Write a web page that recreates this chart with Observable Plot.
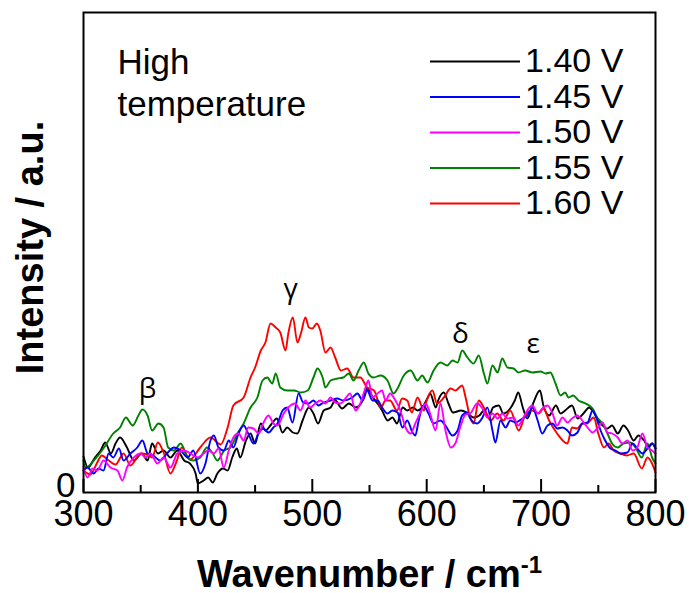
<!DOCTYPE html>
<html>
<head>
<meta charset="utf-8">
<script src="https://cdn.jsdelivr.net/npm/d3@7"></script>
<script src="https://cdn.jsdelivr.net/npm/@observablehq/plot@0.6"></script>
<style>
  html, body { margin: 0; padding: 0; background: #fff; }
  #chart svg { display: block; }
</style>
</head>
<body>
<div id="chart"></div>
<script>
// Raman spectra recorded at high temperature, one curve per applied potential.
// Each series: [wavenumber (cm^-1), intensity (a.u.)]

const seriesLabels = ["1.40 V", "1.45 V", "1.50 V", "1.55 V", "1.60 V"];
const seriesColors = ["#000000", "#0000ff", "#ff00ff", "#008000", "#ff0000"];

const spectrum140 = [
  [300,36],[304,25],[310,35],[315,42],[319,50],[324,39],[328,49],[332,55],[338,45],[344,32],
  [351,39],[356,32],[360,49],[365,39],[370,42],[376,35],[382,42],[388,32],[393,29],[398,19],
  [400,9],[405,12],[409,15],[413,10],[417,19],[422,24],[426,22],[430,35],[434,44],[437,35],
  [442,52],[446,59],[450,49],[455,69],[459,62],[464,68],[469,74],[474,60],[478,65],[483,60],
  [487,59],[491.5,72],[497,85],[501,79],[505,69],[510,82],[516,85],[520,92],[526,84],[532,89],
  [538,85],[544,92],[548,104],[553,95],[557,89],[561,82],[566,72],[570,75],[574,69],[579,85],
  [583,82],[588,85],[592,82],[596,85],[601,95],[603,99],[608,85],[610,92],[615,100],[619,89],
  [623,80],[630,82],[635,80],[641,75],[646,77],[650,82],[654,75],[658,85],[663,87],[667,79],
  [673,84],[677,92],[680,100],[684,85],[688,74],[693,89],[699,102],[702,87],[707,77],[713,87],
  [717,79],[721,82],[727,87],[732,74],[737,79],[742,85],[746,80],[752,69],[758,64],[762,67],
  [767,59],[772,67],[776,62],[781,52],[785,57],[790,52],[794,45],[797,49],[800,44]
];

const spectrum145 = [
  [300,22],[303.5,25],[309,19],[313,24],[317.5,22],[322,39],[326,35],[331,44],[335,32],[341,39],
  [347,45],[351.5,52],[356,39],[361,37],[367,32],[373,39],[379,45],[385,42],[391,35],[396,42],
  [402,19],[406.6,29],[411,52],[414,57],[418,45],[422.6,42],[427,52],[431,45],[435.5,59],[440,67],
  [444,59],[448.6,49],[453,59],[457,64],[461.7,60],[466,65],[469.6,69],[474,82],[478,85],[482.7,70],
  [488,99],[492,90],[496.7,89],[501,92],[505.4,87],[510,90],[516,92],[522,94],[527,92],[535,95],
  [539.5,99],[544,92],[548,102],[552.6,92],[557,92],[561,85],[565.7,79],[570,82],[574.5,80],[578.8,65],
  [583,72],[587.6,60],[590,57],[593,72],[597,87],[601.6,79],[606,69],[612,72],[616.4,67],[622.5,57],
  [627,62],[631,77],[635.6,80],[638,74],[644,69],[648.8,75],[653,85],[657.5,62],[660,50],[664.5,72],
  [669,65],[673,72],[677.6,70],[683.7,74],[688,77],[692.5,85],[697,72],[701,59],[705.6,67],[710,69],
  [714,64],[718.7,65],[723,62],[727,57],[731.8,60],[736,69],[740.6,70],[745,82],[747.5,77],[752,62],
  [756,52],[760.7,44],[765,42],[769.4,39],[775.5,40],[780,49],[784,44],[788.6,39],[793,44],[797,49],
  [800,44]
];

const spectrum150 = [
  [300,25],[303.5,15],[308,24],[312,22],[317.5,32],[323.6,25],[329.7,22],[334,12],[338,25],[344,35],
  [350,39],[354,35],[358.6,39],[364.6,29],[370,35],[376,25],[382,39],[387.6,42],[393.5,39],[399.6,35],
  [405,39],[409,42],[414,39],[418,44],[422.6,25],[427,42],[431,55],[435.5,59],[440,52],[444,65],
  [448.6,64],[453,59],[457,69],[461.7,77],[466,69],[469.6,67],[475,79],[479,85],[485,89],[489.7,82],
  [494,92],[498,85],[502.6,89],[507,92],[511.5,89],[516,95],[520,90],[524.6,89],[529,94],[533,99],
  [537.8,82],[542,89],[546.5,105],[549,112],[552.6,95],[557,99],[561,102],[564,92],[568,99],[572.7,92],
  [577,82],[581.5,65],[586,59],[590,69],[594.6,80],[599,89],[603,79],[607.7,62],[612,89],[616.4,62],
  [621,45],[625,49],[629.5,66],[634,78],[638,79],[644,89],[648.8,84],[653,75],[657.5,79],[662,74],
  [666,79],[670.6,74],[676,75],[680,67],[684.6,75],[689,84],[692.5,87],[697,79],[701,84],[705.6,87],
  [710,79],[714,67],[718.7,75],[723,70],[727,74],[731.8,77],[736,72],[740.6,65],[745,60],[749,64],
  [753.7,70],[758,60],[762,59],[767,55],[771,49],[775.5,52],[780,42],[784,45],[788.6,59],[793,45],
  [797,42],[800,39]
];

const spectrum155 = [
  [300,32],[302,25],[309,32],[318,45],[326,59],[332,65],[337,75],[343,67],[348,77],[351.5,83],
  [356,77],[360,62],[365.5,69],[370,65],[374,45],[379,42],[385,49],[391,35],[396,32],[402,35],
  [408,45],[413,39],[417,32],[423,42],[428.5,45],[434.5,59],[440,69],[446,85],[452,95],[456.5,112],
  [460.6,115],[465,109],[468,119],[472,105],[478,102],[484,102],[490,100],[496,102],[501,115],[504.5,124],
  [509,115],[511.5,105],[516,112],[522,114],[527,115],[532,119],[536,112],[540.5,122],[545,130],[549,119],
  [553.5,115],[559.6,117],[565.7,112],[571,99],[574.5,104],[580,117],[586,122],[592,112],[596,117],[600.7,110],
  [606,122],[612,130],[618,127],[622.5,132],[627,130],[631,142],[635.6,135],[641,129],[645.5,137],[650,119],
  [653,109],[657.5,127],[662,120],[666,134],[670.6,125],[676,124],[680,120],[686,122],[692.5,120],[699.5,121],
  [704,119],[708,120],[712.6,109],[717,97],[721,100],[724,95],[728,97],[732.7,92],[738.8,89],[745,84],
  [749,75],[753.7,69],[758,59],[762,49],[767,45],[772,49],[778,50],[782.5,45],[788,35],[793,49],
  [797,35],[800,29]
];

const spectrum160 = [
  [300,22],[306,18],[312,30],[316,37],[322,32],[328,28],[335,39],[341,27],[350,39],[356,38],
  [360,35],[365,50],[370,40],[376,19],[381,30],[386,45],[393,33],[402,45],[411,55],[420,48],
  [426,65],[431,87],[440,95],[446,115],[450,125],[455,142],[459,150],[463.5,169],[468,165],[472,160],
  [476.6,142],[479,159],[483,175],[487,150],[490,159],[494,175],[497,165],[500,164],[504,169],[507,162],
  [511.5,140],[516,145],[520,135],[525,122],[530.5,124],[536,115],[542,115],[548,105],[554,102],[560,85],
  [564,92],[568,92],[574,82],[578.5,94],[583,92],[587,80],[592,95],[597.5,82],[600,92],[605,102],
  [609,89],[615,95],[621,104],[625,102],[631,107],[634,95],[638,75],[641,69],[645.5,92],[650,85],
  [656,72],[661.6,79],[667,72],[673,82],[680.5,62],[686,77],[692,82],[698,79],[702,84],[707,72],
  [714,59],[723,49],[727,65],[731.5,64],[736,69],[740,69],[746,75],[750,59],[755,45],[759,49],
  [763.5,42],[769,39],[775,37],[781,39],[788,24],[793,35],[797,29],[800,20]
];

const spectra = [spectrum140, spectrum145, spectrum150, spectrum155, spectrum160];

// Band assignments marked above the spectra
const bandLabels = ["β", "γ", "δ", "ε"];
const bandWavenumbers = [356, 481, 629.5, 693];
const bandIntensities = [103, 203, 158, 148];

const majorTicks = [300, 400, 500, 600, 700, 800];
const minorTicks = [350, 450, 550, 650, 750];
const yTicks = [0];

// Tables for the marks
const rows = seriesLabels.map((label, i) => ({
  label,
  color: seriesColors[i],
  points: spectra[i].map(([w, v]) => ({ w, v }))
}));
const bands = bandLabels.map((label, i) => ({ label, w: bandWavenumbers[i], v: bandIntensities[i] }));
const legendRows = seriesLabels.map((label, i) => ({ label, color: seriesColors[i], v: 431 - i * 35.5 }));

// Draw order: black first, magenta on top
const drawOrder = [0, 4, 3, 1, 2];

const chart = Plot.plot({
  width: 689,
  height: 593,
  marginLeft: 83,
  marginRight: 34,
  marginTop: 12,
  marginBottom: 101,
  style: { fontFamily: "'Liberation Sans', Arial, sans-serif", background: "#fff", color: "#000" },
  x: { domain: [300, 800] },
  y: { domain: [0, 480] },
  marks: [
    ...drawOrder.map(i => Plot.line(rows[i].points, {
      x: "w", y: "v", stroke: rows[i].color, strokeWidth: 1.9, curve: "monotone-x"
    })),
    // inward ticks along the bottom edge
    Plot.ruleX(majorTicks, { x: d => d, y1: 0, y2: 13, stroke: "#000", strokeWidth: 2 }),
    Plot.ruleX(minorTicks, { x: d => d, y1: 0, y2: 7, stroke: "#000", strokeWidth: 2 }),
    Plot.axisX({ ticks: majorTicks, tickSize: 0, tickPadding: 8, fontSize: 36, label: null, tickFormat: d => String(d) }),
    Plot.axisY({ ticks: yTicks, tickSize: 0, tickPadding: 8, fontSize: 35, label: null, dy: -7 }),
    Plot.text(["Wavenumber / cm"], { frameAnchor: "bottom", dy: 94, fontSize: 38, fontWeight: "bold" }),
    Plot.text(["Intensity / a.u."], { frameAnchor: "left", textAnchor: "middle", dx: -53, dy: -5, rotate: -90, fontSize: 38, fontWeight: "bold" }),
    Plot.text(["High\ntemperature"], { x: 329.7, y: 448, textAnchor: "start", lineAnchor: "top", fontSize: 35, lineHeight: 1.2 }),
    // legend
    Plot.ruleY(legendRows, { x1: 603.3, x2: 682, y: "v", stroke: "color", strokeWidth: 2 }),
    Plot.text(legendRows, { x: 686, y: "v", text: "label", textAnchor: "start", fontSize: 34 }),
    // band labels
    Plot.text(bands, { x: "w", y: "v", text: "label", fontSize: 28, fontFamily: "'Open Sans', sans-serif" }),
    Plot.frame({ stroke: "#000", strokeWidth: 2 })
  ]
});

// superscript exponent on the unit
d3.select(chart).selectAll("text")
  .filter(function () { return this.textContent === "Wavenumber / cm"; })
  .append("tspan").attr("dy", "-0.55em").attr("font-size", 24).text("-1");

document.getElementById("chart").appendChild(chart);
</script>
</body>
</html>
